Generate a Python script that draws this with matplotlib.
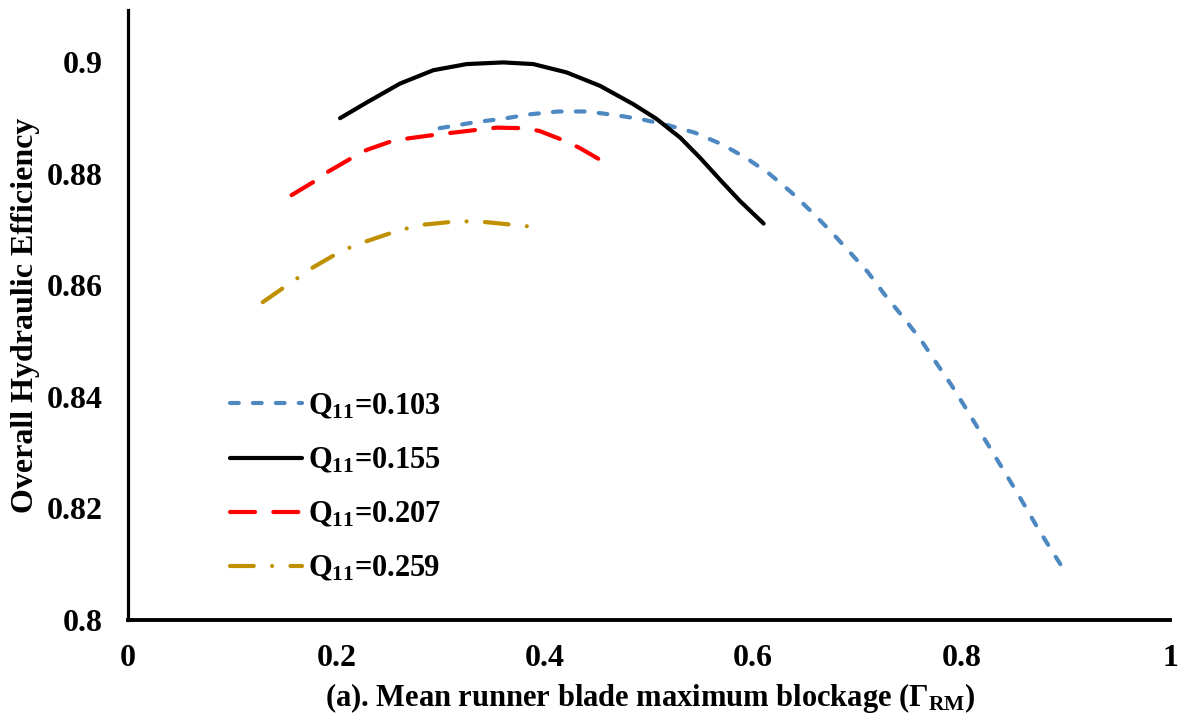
import matplotlib
matplotlib.use("Agg")
import matplotlib.pyplot as plt

# ---- data -------------------------------------------------------------
blockage_103 = [0.299, 0.334, 0.360, 0.386, 0.413, 0.440, 0.466, 0.493, 0.519,
                0.544, 0.570, 0.593, 0.615, 0.636, 0.655, 0.674, 0.692, 0.710,
                0.726, 0.743, 0.760, 0.775, 0.790, 0.804, 0.818, 0.832, 0.846,
                0.860, 0.873, 0.888, 0.901]
eff_103 = [0.8882, 0.8893, 0.8899, 0.8907, 0.8912, 0.8912, 0.8906, 0.8898, 0.8887,
           0.8874, 0.8853, 0.8829, 0.8801, 0.8768, 0.8734, 0.8698, 0.8661, 0.8624,
           0.8584, 0.8545, 0.8505, 0.8463, 0.8422, 0.8380, 0.8337, 0.8294, 0.8251,
           0.8207, 0.8165, 0.8120, 0.8082]

blockage_155 = [0.2035, 0.229, 0.261, 0.293, 0.325, 0.360, 0.389, 0.421, 0.453,
                0.485, 0.507, 0.530, 0.549, 0.568, 0.587, 0.610]
eff_155 = [0.8900, 0.8928, 0.8962, 0.8986, 0.8997, 0.9000, 0.8997, 0.8982, 0.8958,
           0.8925, 0.8899, 0.8865, 0.8829, 0.8790, 0.8752, 0.8711]

blockage_207 = [0.157, 0.181, 0.192, 0.217, 0.229, 0.255, 0.270, 0.298, 0.312,
                0.339, 0.354, 0.381, 0.395, 0.421, 0.434, 0.458]
eff_207 = [0.8762, 0.8789, 0.8804, 0.8831, 0.8843, 0.8860, 0.8864, 0.8871, 0.8874,
           0.8880, 0.8883, 0.8882, 0.8877, 0.8858, 0.8846, 0.8820]

blockage_259 = [0.1293, 0.1516, 0.1641, 0.1763, 0.2003, 0.2140, 0.2284, 0.2540,
                0.2690, 0.2834, 0.3106, 0.3266, 0.3410, 0.3682, 0.3842]
eff_259 = [0.8570, 0.8599, 0.8615, 0.8631, 0.8657, 0.8669, 0.8679, 0.8695,
           0.8703, 0.8709, 0.8714, 0.8715, 0.8714, 0.8709, 0.8706]

series_labels = ["Q$_{11}$=0.103", "Q$_{11}$=0.155", "Q$_{11}$=0.207", "Q$_{11}$=0.259"]
x_ticks = [0, 0.2, 0.4, 0.6, 0.8, 1.0]
x_tick_labels = ["0", "0.2", "0.4", "0.6", "0.8", "1"]
y_ticks = [0.80, 0.82, 0.84, 0.86, 0.88, 0.90]
y_tick_labels = ["0.8", "0.82", "0.84", "0.86", "0.88", "0.9"]

# ---- style ------------------------------------------------------------
plt.rcParams["font.family"] = ["Liberation Serif", "DejaVu Serif"]
plt.rcParams["font.weight"] = "bold"
plt.rcParams["mathtext.fontset"] = "custom"
plt.rcParams["mathtext.rm"] = "Liberation Serif:bold"
plt.rcParams["mathtext.it"] = "Liberation Serif:bold"
plt.rcParams["mathtext.bf"] = "Liberation Serif:bold"

W, H = 1186, 724
fig = plt.figure(figsize=(W / 100, H / 100), dpi=100)
ax = fig.add_axes([128 / W, 104 / H, (1170 - 128) / W, (620 - 10) / H])

lw = 3.0
common = dict(lw=lw, solid_joinstyle="round", solid_capstyle="round",
              dash_capstyle="round", dash_joinstyle="round")
ax.plot(blockage_103, eff_103, color="#4E88C0", dashes=(2.1, 3.4),
        label=series_labels[0], **common)
ax.plot(blockage_155, eff_155, color="black", label=series_labels[1], **common)
ax.plot(blockage_207, eff_207, color="#FF0000", dashes=(6.0, 4.4),
        label=series_labels[2], **common)
ax.plot(blockage_259, eff_259, color="#BF9000", dashes=(5.7, 4.4, 0.01, 4.4),
        label=series_labels[3], **common)

ax.set_xlim(0, 1.0)
ax.set_ylim(0.8, 0.9094)
ax.set_xticks(x_ticks)
ax.set_xticklabels(x_tick_labels)
ax.set_yticks(y_ticks)
ax.set_yticklabels(y_tick_labels)
ax.tick_params(axis="both", length=0, labelsize=23)
ax.tick_params(axis="x", pad=17)
ax.tick_params(axis="y", pad=18)

for side in ("top", "right"):
    ax.spines[side].set_visible(False)
ax.spines["left"].set_linewidth(2.3)
ax.spines["bottom"].set_linewidth(2.8)

ax.set_ylabel("Overall Hydraulic Efficiency", fontsize=23, fontweight="bold")
ax.yaxis.set_label_coords(-0.0845, 0.5)
ax.set_xlabel(r"(a). Mean runner blade maximum blockage ($\Gamma_{RM}$)",
              fontsize=22, fontweight="bold")
ax.xaxis.label.set_verticalalignment("center")
ax.xaxis.set_label_coords(0.501, -0.128)

leg = fig.legend(loc="upper left", bbox_to_anchor=(230 / W, 1 - 392 / H),
                 frameon=False, fontsize=22, handlelength=2.35,
                 handletextpad=0.2, labelspacing=0.82, borderpad=0,
                 borderaxespad=0)

fig.savefig("out.png", dpi=100)
